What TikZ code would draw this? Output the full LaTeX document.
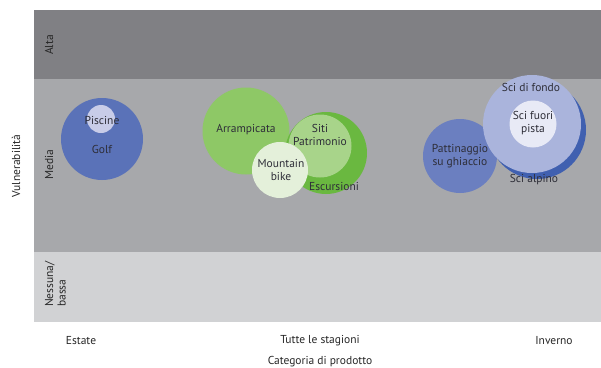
\documentclass[tikz,border=0pt]{standalone}
\usepackage{fontspec}
\setmainfont{PT Sans}
\definecolor{bandA}{HTML}{808084}
\definecolor{bandM}{HTML}{A7A8AB}
\definecolor{bandN}{HTML}{D1D2D4}
\definecolor{txt}{HTML}{2E2E38}
\definecolor{golf}{HTML}{5A72B8}
\definecolor{piscine}{HTML}{C8CCE8}
\definecolor{arramp}{HTML}{8EC866}
\definecolor{escur}{HTML}{6AB840}
\definecolor{siti}{HTML}{A8D48A}
\definecolor{mbike}{HTML}{E4F0DA}
\definecolor{patt}{HTML}{6B7FC0}
\definecolor{alpino}{HTML}{4060B0}
\definecolor{fondo}{HTML}{AAB4DC}
\definecolor{fuori}{HTML}{E8EAF6}
\tikzset{
  lbl/.style={font=\fontsize{11.5}{12.5}\selectfont, text=txt, align=center, inner sep=0pt},
  axl/.style={font=\fontsize{11.5}{12.5}\selectfont, text=black!85, inner sep=0pt},
  bub/.style={circle, inner sep=0pt, draw=none}
}
\begin{document}
\begin{tikzpicture}[x=1pt,y=-1pt]
\useasboundingbox (0,0) rectangle (601,367);
% bands
\fill[bandA] (34,10) rectangle (601,79);
\fill[bandM] (34,79) rectangle (601,252);
\fill[bandN] (34,252) rectangle (601,322);
% band labels
\node[axl, rotate=90, anchor=south west] (alta) at (53.5,55) {Alta};
\node[axl, rotate=90, anchor=south west] (media) at (53.5,180) {Media};
\node[axl, rotate=90, anchor=south west, align=left] (ness) at (66,307) {Nessuna/\\bassa};
\node[axl, rotate=90] (vuln) at (16,166) {Vulnerabilità};
% x labels
\node[axl] (est) at (81,341) {Estate};
\node[axl] (tutte) at (320,341) {Tutte le stagioni};
\node[axl] (inv) at (554,341) {Inverno};
\node[axl] (cat) at (320,362) {Categoria di prodotto};
% summer
\node[bub, fill=golf, minimum size=82pt] (golf) at (102,139) {};
\node[bub, fill=piscine, minimum size=28pt] (pisc) at (101,119) {};
\node[lbl] at (102,120) {Piscine};
\node[lbl] at (102,149) {Golf};
% all seasons
\node[bub, fill=arramp, minimum size=87pt] (arr) at (246,131) {};
\node[bub, fill=escur, minimum size=82pt] (esc) at (326,153) {};
\node[bub, fill=siti, minimum size=63pt] (siti) at (320,146) {};
\node[bub, fill=mbike, minimum size=56pt] (mb) at (280,170) {};
\node[lbl] at (246,130) {Arrampicata};
\node[lbl] at (320,135) {Siti\\Patrimonio};
\node[lbl] at (281,170) {Mountain\\bike};
\node[lbl] at (334,186) {Escursioni};
% winter
\node[bub, fill=patt, minimum size=74pt] (patt) at (460,156) {};
\node[bub, fill=alpino, minimum size=98pt] (alp) at (537,130) {};
\node[bub, fill=fondo, minimum size=98pt] (fondo) at (532,124) {};
\node[bub, fill=fuori, minimum size=47pt] (fuori) at (533,124) {};
\node[lbl] at (460,156) {Pattinaggio\\su ghiaccio};
\node[lbl] at (531,87) {Sci di fondo};
\node[lbl] at (533,123) {Sci fuori\\pista};
\node[lbl] at (534,180) {Sci alpino};
\end{tikzpicture}
\end{document}
